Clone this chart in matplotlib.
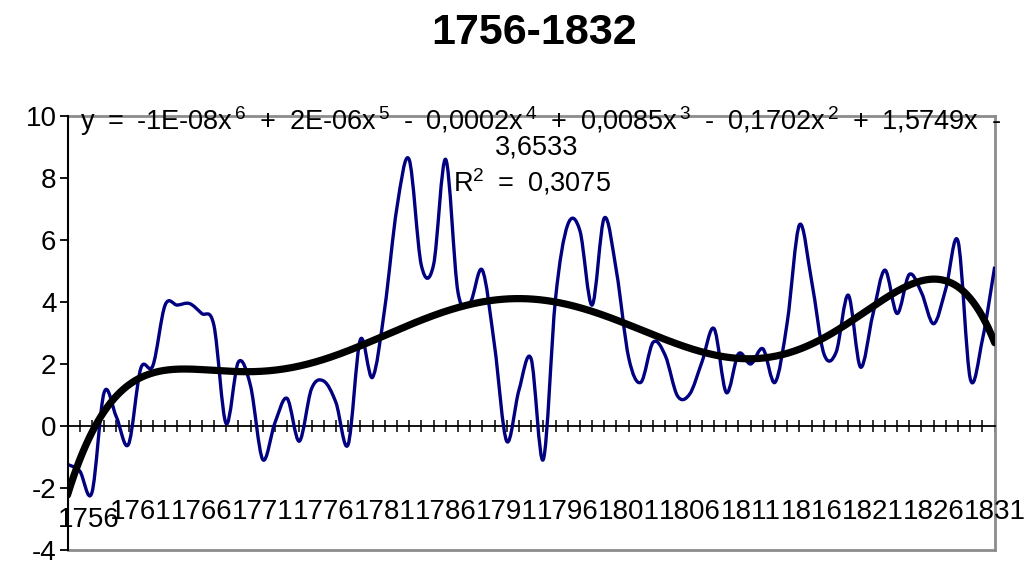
import numpy as np
import matplotlib
matplotlib.use("Agg")
import matplotlib.pyplot as plt
from matplotlib.path import Path
from matplotlib.patches import PathPatch
from matplotlib.lines import Line2D

plt.rcParams['font.family'] = ['Liberation Sans', 'DejaVu Sans']
plt.rcParams['mathtext.fontset'] = 'custom'
plt.rcParams['mathtext.rm'] = 'Liberation Sans'

# Yearly series 1756-1832
years = list(range(1756, 1833))
values = [
    -1.24, -1.45, -2.15, 1.08, 0.30, -0.59, 1.85, 1.95, 3.90, 3.90,
    3.95, 3.63, 3.25, 0.08, 2.06, 1.30, -1.08, 0.10, 0.89, -0.49,
    1.20, 1.45, 0.76, -0.60, 2.78, 1.57, 3.79, 7.04, 8.60, 5.19,
    5.19, 8.60, 4.33, 3.98, 5.03, 2.60, -0.49, 1.15, 2.17, -1.08,
    4.10, 6.49, 6.30, 3.90, 6.71, 4.98, 2.20, 1.41, 2.70, 2.27,
    0.97, 1.03, 2.06, 3.14, 1.08, 2.33, 2.00, 2.49, 1.41, 3.36,
    6.49, 4.66, 2.33, 2.38, 4.22, 1.90, 3.57, 5.03, 3.63, 4.89,
    4.30, 3.30, 4.44, 5.95, 1.52, 2.80, 5.14,
]
label_years = years[0:76:5]
y_ticks = [-4, -2, 0, 2, 4, 6, 8, 10]

title = "1756-1832"
SP = "\u2002"  # wide space used in the trendline label
eq_line1 = SP.join([
    r"y", "=", r"-1E-08x$^{\,\mathregular{6}}$", "+", r"2E-06x$^{\,\mathregular{5}}$",
    "-", r"0,0002x$^{\,\mathregular{4}}$", "+", r"0,0085x$^{\,\mathregular{3}}$",
    "-", r"0,1702x$^{\,\mathregular{2}}$", "+", "1,5749x", "-",
])
eq_line2 = "3,6533"
eq_line3 = SP.join([r"R$^{\mathregular{2}}$", "=", "0,3075"])

W, H = 1027, 562
fig = plt.figure(figsize=(W / 100, H / 100), dpi=100)
fig.patch.set_facecolor('white')


def px(x, y):
    return x / W, 1 - y / H


left, right, top, bottom = 67.5, 994.7, 116, 550
ax = fig.add_axes([left / W, 1 - bottom / H, (right - left) / W, (bottom - top) / H])

x = np.arange(1, len(values) + 1, dtype=float)
y = np.array(values)

# smoothed series line (cubic Bezier segments through each point)
pts = np.column_stack([x, y])
n = len(pts)
verts = [pts[0]]
codes = [Path.MOVETO]
for i in range(n - 1):
    p0 = pts[i - 1] if i > 0 else pts[i]
    p1 = pts[i]
    p2 = pts[i + 1]
    p3 = pts[i + 2] if i + 2 < n else pts[i + 1]
    verts += [p1 + (p2 - p0) / 6.0, p2 - (p3 - p1) / 6.0, p2]
    codes += [Path.CURVE4] * 3
ax.add_patch(PathPatch(Path(verts, codes), fill=False, edgecolor='#000080',
                       lw=2.4, joinstyle='round', zorder=3))

# 6th-order polynomial trend fitted to the series
poly = np.polynomial.Polynomial.fit(x, y, 6)
xf = np.linspace(1, len(values), 600)
ax.plot(xf, poly(xf), color='black', lw=5.2, solid_capstyle='round', zorder=4)

ax.set_xlim(1, len(values))
ax.set_ylim(-4, 10)

# axes styling
for s in ['top', 'right']:
    ax.spines[s].set_color('#8c8c8c')
    ax.spines[s].set_linewidth(2.0)
ax.spines['left'].set_color('black')
ax.spines['left'].set_linewidth(1.5)
ax.spines['left'].set_zorder(5)
ax.spines['bottom'].set_position(('data', 0))
ax.spines['bottom'].set_color('black')
ax.spines['bottom'].set_linewidth(1.3)
ax.add_line(Line2D([0, 1], [0, 0], transform=ax.transAxes, color='#8c8c8c',
                   lw=2.0, clip_on=False, zorder=2))

ax.set_xticks(x)
ax.set_xticklabels([])
ax.tick_params(axis='x', direction='inout', length=8, width=1.1, color='black')
ax.set_yticks(y_ticks)
ax.set_yticklabels([str(v) for v in y_ticks])
ax.tick_params(axis='y', direction='out', length=6, width=1.3, pad=2,
               labelsize=20, color='black')

for yr in label_years:
    idx = years.index(yr) + 1
    if idx == 1:
        ax.text(idx + 1.75, -3.02, str(yr), ha='center', va='center',
                fontsize=20, clip_on=False, zorder=6)
    else:
        ax.text(idx + 1.0, -2.76, str(yr), ha='center', va='center',
                fontsize=20, clip_on=False, zorder=6)

fig.text(*px(534, 33), title, ha='center', va='center', fontsize=31,
         fontweight='bold')
fig.text(*px(540, 121), eq_line1, ha='center', va='center', fontsize=19.5)
fig.text(*px(537, 147), eq_line2, ha='center', va='center', fontsize=19.5)
fig.text(*px(532, 182), eq_line3, ha='center', va='center', fontsize=19.5)

fig.savefig('out.png', dpi=100, facecolor='white')
